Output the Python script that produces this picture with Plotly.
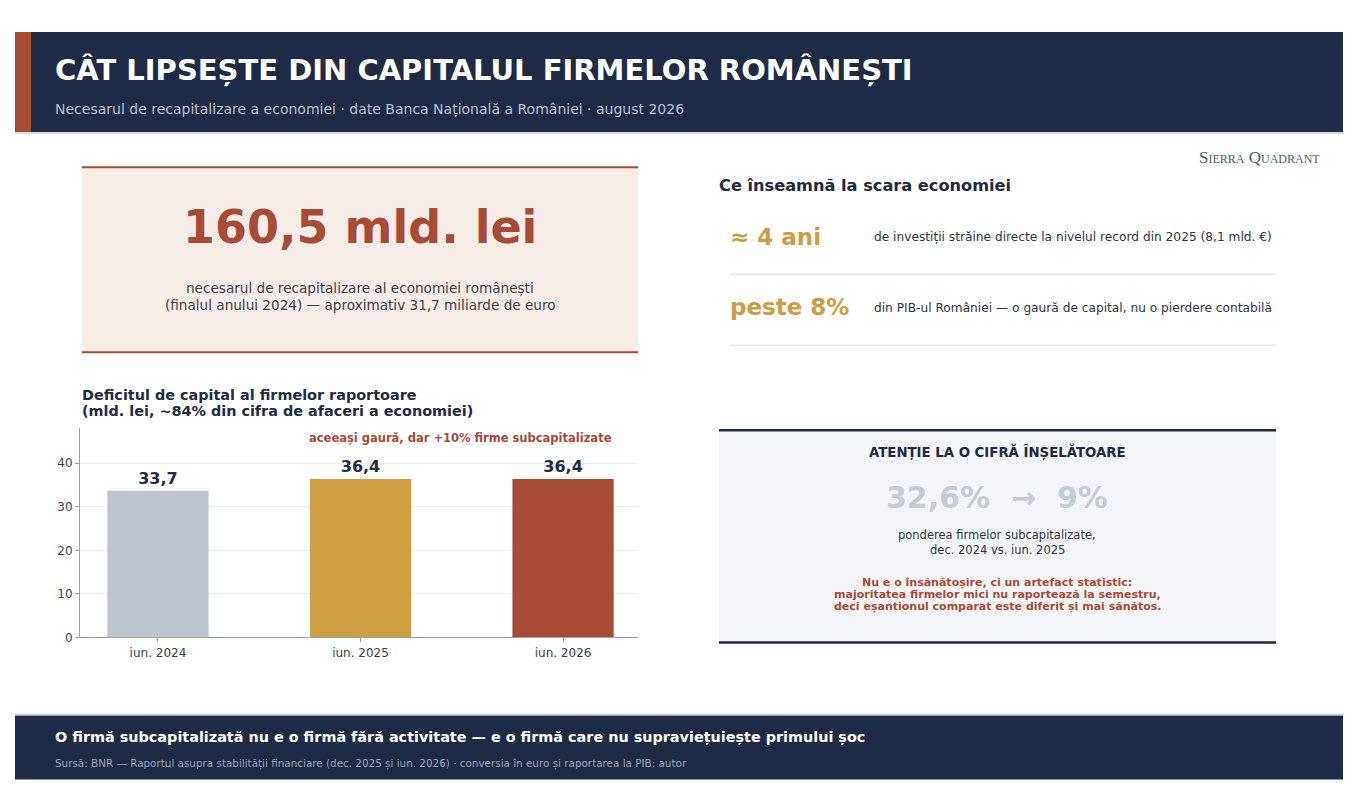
import plotly.graph_objects as go

W, H = 1354, 800
K = 1.0096  # vertical correction observed in the rendered page

# ---- data ----
periods = ["iun. 2024", "iun. 2025", "iun. 2026"]
deficit = [33.7, 36.4, 36.4]
bar_colors = ["#bcc4cd", "#d09e43", "#a84b35"]
y_ticks = [0, 10, 20, 30, 40]

NAVY = "#1f2a44"
RED = "#a84b35"
GOLD = "#cf9c42"
FONT = "DejaVu Sans"

def px(x):
    return x / W

def py(y):
    return 1 - (y * K) / H

fig = go.Figure()
fig.add_trace(go.Bar(
    x=periods, y=deficit, marker=dict(color=bar_colors, line=dict(width=0)),
    width=0.5, texttemplate="%{y:.1f}", textposition="outside",
    textfont=dict(family=FONT, size=16, color=NAVY, weight="bold"),
    cliponaxis=False, hoverinfo="skip",
))

shapes = []
def rect(x0, y0, x1, y1, color, line=None):
    shapes.append(dict(type="rect", xref="paper", yref="paper",
                       x0=px(x0), x1=px(x1), y0=py(y1), y1=py(y0),
                       fillcolor=color, line=dict(width=0) if line is None else line,
                       layer="below"))

def hline(x0, x1, y, color, width):
    shapes.append(dict(type="line", xref="paper", yref="paper",
                       x0=px(x0), x1=px(x1), y0=py(y), y1=py(y),
                       line=dict(color=color, width=width), layer="below"))

# header
rect(15, 32, 1343, 132, NAVY)
rect(15, 32, 31, 132, RED)
hline(15, 1343, 133, "#c9cdd3", 1.5)
# footer
rect(15, 715, 1343, 779, NAVY)
hline(15, 1343, 714, "#c9cdd3", 1.5)
# stat box
rect(82, 167, 638, 352, "#f6ece8")
hline(82, 638, 167, RED, 2)
hline(82, 638, 352, RED, 2)
# right separators
hline(730, 1276, 274, "#e3e7ee", 1.5)
hline(730, 1276, 345, "#e3e7ee", 1.5)
# warning box
rect(719, 430, 1276, 642, "#f3f5f8")
hline(719, 1276, 430, NAVY, 2.5)
hline(719, 1276, 642, NAVY, 2.5)

ann = []
def text(x, y, s, size, color, bold=False, anchor="left", family=FONT, variant=None):
    f = dict(family=family, size=size, color=color)
    if bold:
        f["weight"] = "bold"
    if variant:
        f["variant"] = variant
    xx = x - 2 if anchor == "left" else (x + 2 if anchor == "right" else x)
    ann.append(dict(x=px(xx), y=py(y), xref="paper", yref="paper", text=s,
                    showarrow=False, xanchor=anchor, yanchor="middle",
                    font=f, align="center" if anchor == "center" else anchor))

text(55, 70, "CÂT LIPSEȘTE DIN CAPITALUL FIRMELOR ROMÂNEȘTI", 29, "#ffffff", bold=True)
text(55, 109, "Necesarul de recapitalizare a economiei · date Banca Națională a României · august 2026", 14, "#b9c1d0")

text(1320, 157, "Sierra Quadrant", 17, "#3f6a5e", anchor="right", family="Liberation Serif", variant="small-caps")

text(360, 227, "160,5 mld. lei", 46, RED, bold=True, anchor="center")
text(360, 288, "necesarul de recapitalizare al economiei românești", 13.6, "#3a3f4b", anchor="center")
text(360, 305, "(finalul anului 2024) — aproximativ 31,7 miliarde de euro", 13.6, "#3a3f4b", anchor="center")

text(719, 185, "Ce înseamnă la scara economiei", 16.2, NAVY, bold=True)
text(730, 237, "≈ 4 ani", 23, GOLD, bold=True)
text(874, 237, "de investiții străine directe la nivelul record din 2025 (8,1 mld. €)", 12.2, "#2f3544")
text(730, 307, "peste 8%", 23, GOLD, bold=True)
text(874, 308, "din PIB-ul României — o gaură de capital, nu o pierdere contabilă", 12.2, "#2f3544")

text(82, 395, "Deficitul de capital al firmelor raportoare", 14.4, NAVY, bold=True)
text(82, 411, "(mld. lei, ~84% din cifra de afaceri a economiei)", 14.4, NAVY, bold=True)
text(612, 438, "aceeași gaură, dar +10% firme subcapitalizate", 11.5, RED, bold=True, anchor="right")

text(997, 452, "ATENȚIE LA O CIFRĂ ÎNȘELĂTOARE", 13.3, NAVY, bold=True, anchor="center")
text(997, 497, "32,6%  →  9%", 30, "#c5ccd5", bold=True, anchor="center")
text(997, 535, "ponderea firmelor subcapitalizate,", 11.5, "#2f3544", anchor="center")
text(997, 550, "dec. 2024 vs. iun. 2025", 11.5, "#2f3544", anchor="center")
text(997, 582, "Nu e o însănătoșire, ci un artefact statistic:", 11, RED, bold=True, anchor="center")
text(997, 594, "majoritatea firmelor mici nu raportează la semestru,", 11, RED, bold=True, anchor="center")
text(997, 606, "deci eșantionul comparat este diferit și mai sănătos.", 11, RED, bold=True, anchor="center")

text(55, 737, "O firmă subcapitalizată nu e o firmă fără activitate — e o firmă care nu supraviețuiește primului șoc", 14.4, "#ffffff", bold=True)
text(55, 763, "Sursă: BNR — Raportul asupra stabilității financiare (dec. 2025 și iun. 2026) · conversia în euro și raportarea la PIB: autor", 10.4, "#9aa3b5")

fig.update_layout(
    width=W, height=H, margin=dict(l=0, r=0, t=0, b=0),
    paper_bgcolor="#ffffff", plot_bgcolor="#ffffff",
    separators=", ", showlegend=False,
    shapes=shapes, annotations=ann,
    font=dict(family=FONT, color="#3a3f4b"),
    xaxis=dict(domain=[px(80), px(638)], range=[-0.385, 2.37],
               showline=True, linecolor="#9aa3ad", linewidth=1,
               ticks="outside", ticklen=4, tickcolor="#9aa3ad",
               tickfont=dict(family=FONT, size=12, color="#3a3f4b"),
               showgrid=False, fixedrange=True),
    yaxis=dict(domain=[py(637), py(428)], range=[0, 48],
               tickvals=y_ticks, showline=True, linecolor="#9aa3ad", linewidth=1,
               ticks="outside", ticklen=4, tickcolor="#9aa3ad",
               tickfont=dict(family=FONT, size=12, color="#3a3f4b"),
               showgrid=True, gridcolor="#e9edf1", gridwidth=1,
               zeroline=False, fixedrange=True),
)

fig.write_html("out.html", config={"displayModeBar": False},
               post_script="document.body.style.margin='0';document.body.style.overflow='hidden';")
